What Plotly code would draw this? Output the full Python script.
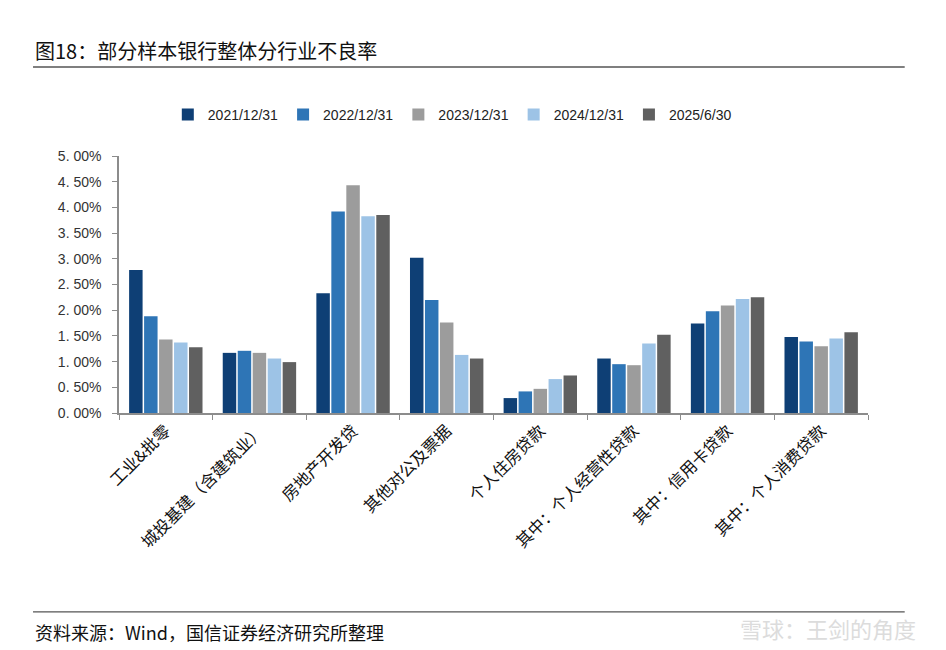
import plotly.graph_objects as go

categories = ["工业&批零", "城投基建（含建筑业）", "房地产开发贷", "其他对公及票据",
              "个人住房贷款", "其中：个人经营性贷款", "其中：信用卡贷款", "其中：个人消费贷款"]
series_names = ["2021/12/31", "2022/12/31", "2023/12/31", "2024/12/31", "2025/6/30"]
v2021 = [2.78, 1.17, 2.33, 3.02, 0.29, 1.06, 1.74, 1.48]
v2022 = [1.88, 1.21, 3.92, 2.20, 0.42, 0.95, 1.98, 1.39]
v2023 = [1.43, 1.17, 4.43, 1.76, 0.47, 0.93, 2.09, 1.30]
v2024 = [1.37, 1.06, 3.83, 1.13, 0.66, 1.35, 2.22, 1.45]
v2025 = [1.28, 0.99, 3.85, 1.06, 0.73, 1.52, 2.25, 1.57]
ytick_vals = [0, 0.5, 1, 1.5, 2, 2.5, 3, 3.5, 4, 4.5, 5]
ytick_text = ["0. 00%", "0. 50%", "1. 00%", "1. 50%", "2. 00%", "2. 50%",
              "3. 00%", "3. 50%", "4. 00%", "4. 50%", "5. 00%"]

colors = ["#0E3F75", "#2E75B6", "#9C9C9C", "#9DC3E6", "#606060"]
all_vals = [v2021, v2022, v2023, v2024, v2025]

fig = go.Figure()
for name, vals, c in zip(series_names, all_vals, colors):
    fig.add_trace(go.Bar(x=categories, y=vals, name=name, marker_color=c,
                         marker_line_width=0))

font_cjk = "Noto Sans CJK SC, Liberation Sans, Arial"
fig.update_layout(
    width=938, height=642,
    margin=dict(l=111, r=78, t=148, b=237),
    paper_bgcolor="white", plot_bgcolor="white",
    barmode="group", bargap=0.2, bargroupgap=0.1,
    font=dict(family=font_cjk, color="#222"),
    legend=dict(orientation="h", x=0.445, xanchor="center", y=1.16, yanchor="middle",
                font=dict(size=14, family="Liberation Sans, Arial", color="#222"),
                itemwidth=30, traceorder="normal"),
    showlegend=True,
)
fig.update_yaxes(range=[0, 5], tickvals=ytick_vals, ticktext=ytick_text,
                 showgrid=False, zeroline=False, showline=True, linecolor="#8c8c8c",
                 linewidth=1.5, ticks="outside", ticklen=5, tickcolor="#8c8c8c",
                 ticklabelstandoff=8,
                 tickfont=dict(size=14, family="Liberation Sans, Arial", color="#333"))
fig.update_xaxes(showline=True, linecolor="#8c8c8c", linewidth=1.5, ticks="outside",
                 tickson="boundaries", ticklen=5, tickcolor="#8c8c8c", tickangle=-45,
                 tickfont=dict(size=16.5, family=font_cjk, color="#111"))

# title, rules, source
fig.add_annotation(xref="paper", yref="paper", x=-0.1148, y=1.412, xanchor="left", yanchor="middle",
                   text="图18：部分样本银行整体分行业不良率", showarrow=False,
                   font=dict(size=20, family=font_cjk, color="#111"))
fig.add_shape(type="line", xref="paper", yref="paper", x0=-0.1148, x1=1.049, y0=1.346, y1=1.346,
              line=dict(color="#555", width=1.5))
fig.add_shape(type="line", xref="paper", yref="paper", x0=-0.1148, x1=1.049, y0=-0.774, y1=-0.774,
              line=dict(color="#555", width=1.2))
fig.add_annotation(xref="paper", yref="paper", x=-0.1148, y=-0.852, xanchor="left", yanchor="middle",
                   text="资料来源：Wind，国信证券经济研究所整理", showarrow=False,
                   font=dict(size=18, family=font_cjk, color="#111"))
fig.add_annotation(xref="paper", yref="paper", x=1.067, y=-0.835, xanchor="right", yanchor="middle",
                   text="雪球：王剑的角度", showarrow=False,
                   font=dict(size=22, family=font_cjk, color="#dcdcdc"))

fig.write_html("out.html")
